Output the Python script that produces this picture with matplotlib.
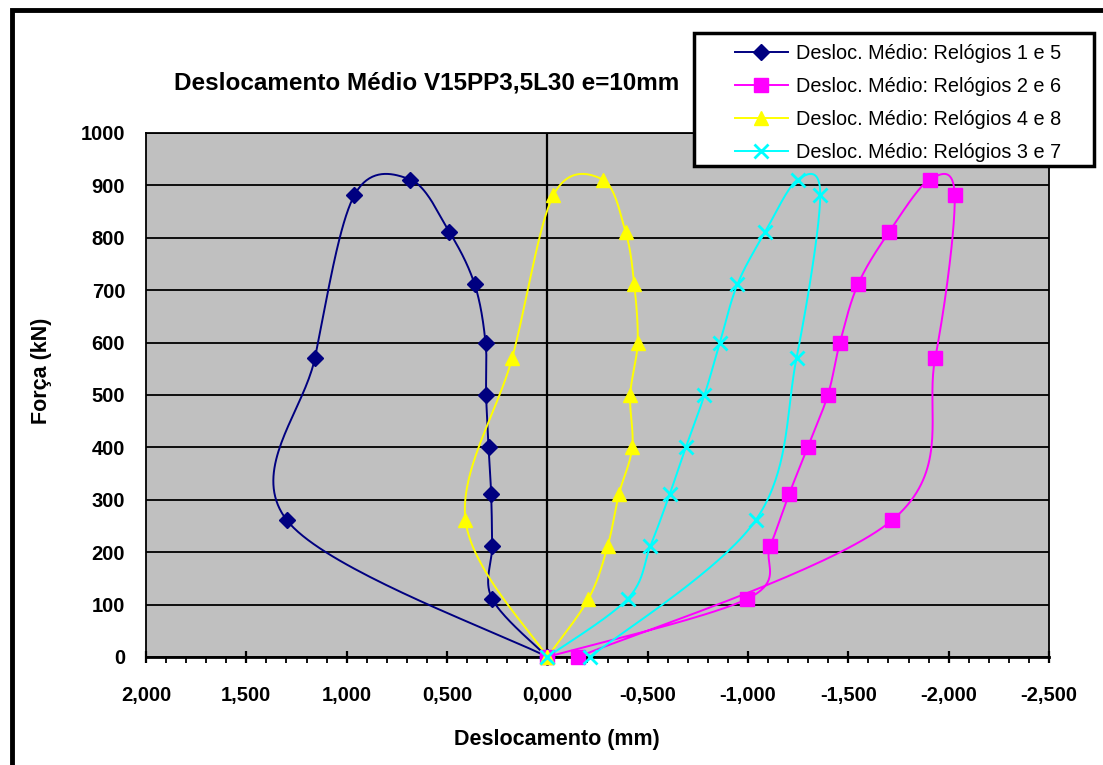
import numpy as np
import matplotlib
matplotlib.use('Agg')
import matplotlib.pyplot as plt
from matplotlib.lines import Line2D
from matplotlib.patches import Rectangle
from matplotlib.ticker import MultipleLocator, FuncFormatter

plt.rcParams['font.family'] = ['Liberation Sans', 'DejaVu Sans']

# ---------------- data ----------------
forca = [0, 111, 211, 311, 400, 500, 600, 711, 811, 911, 881, 571, 261, 0]
desl_1_5 = [0, 0.275, 0.275, 0.280, 0.293, 0.305, 0.308, 0.362, 0.488, 0.682, 0.962, 1.158, 1.298, 0]
desl_2_6 = [0, -0.997, -1.110, -1.205, -1.297, -1.398, -1.458, -1.548, -1.703, -1.905, -2.030, -1.933, -1.718, -0.155]
desl_4_8 = [0, -0.205, -0.300, -0.357, -0.423, -0.413, -0.450, -0.433, -0.390, -0.277, -0.030, 0.175, 0.408, 0]
desl_3_7 = [0, -0.400, -0.513, -0.610, -0.690, -0.783, -0.860, -0.947, -1.085, -1.247, -1.360, -1.242, -1.038, -0.213]

labels = ['Desloc. Médio: Relógios 1 e 5', 'Desloc. Médio: Relógios 2 e 6',
          'Desloc. Médio: Relógios 4 e 8', 'Desloc. Médio: Relógios 3 e 7']
series = [desl_1_5, desl_2_6, desl_4_8, desl_3_7]
colors = ['#000080', '#FF00FF', '#FFFF00', '#00FFFF']
markers = ['D', 's', '^', 'x']
msizes = [8.5, 10.5, 10.5, 10]

title = 'Deslocamento Médio V15PP3,5L30 e=10mm'
xlabel = 'Deslocamento (mm)'
ylabel = 'Força (kN)'

W, H = 1103, 765
fig = plt.figure(figsize=(W / 100, H / 100), dpi=100)
fig.patch.set_facecolor('white')

L, R, T, B = 146, 1049, 133, 657
ax = fig.add_axes([L / W, 1 - B / H, (R - L) / W, (B - T) / H])
ax.set_facecolor('#C0C0C0')
ax.set_xlim(2.0, -2.5)
ax.set_ylim(0, 1000)

# gridlines
ax.yaxis.set_major_locator(MultipleLocator(100))
ax.grid(axis='y', color='black', lw=1.3, zorder=1)
ax.set_axisbelow(True)
ax.axvline(0, color='black', lw=1.6, zorder=1.5)

for s in ax.spines.values():
    s.set_color('black')
    s.set_linewidth(1.3)
ax.spines['bottom'].set_linewidth(2)

ax.xaxis.set_major_locator(MultipleLocator(0.5))
ax.xaxis.set_minor_locator(MultipleLocator(0.1))


def xfmt(v, pos):
    if abs(v) < 1e-9:
        v = 0.0
    return f'{v:.3f}'.replace('.', ',')


ax.xaxis.set_major_formatter(FuncFormatter(xfmt))
ax.tick_params(axis='x', which='major', direction='inout', length=8, width=1.6,
               labelsize=14.5, pad=17)
ax.tick_params(axis='x', which='minor', direction='out', length=4, width=1.3)
ax.tick_params(axis='y', which='both', length=0, labelsize=14.5, pad=15)
for lab in ax.get_xticklabels() + ax.get_yticklabels():
    lab.set_fontweight('bold')


def smooth(xs, ys, n=40):
    pts = ax.transData.transform(np.column_stack([xs, ys]))
    P = np.vstack([pts[0], pts, pts[-1]])
    out = []
    t = np.linspace(0, 1, n)[:, None]
    for i in range(1, len(P) - 2):
        p0, p1, p2, p3 = P[i - 1], P[i], P[i + 1], P[i + 2]
        c1 = p1 + (p2 - p0) / 6
        c2 = p2 - (p3 - p1) / 6
        seg = (1 - t) ** 3 * p1 + 3 * (1 - t) ** 2 * t * c1 + 3 * (1 - t) * t ** 2 * c2 + t ** 3 * p2
        out.append(seg)
    out = np.vstack(out)
    return ax.transData.inverted().transform(out)


handles = []
for xs, c, m, ms, lab in zip(series, colors, markers, msizes, labels):
    curve = smooth(xs, forca)
    ax.plot(curve[:, 0], curve[:, 1], color=c, lw=1.4, zorder=3, clip_on=False)
    mew = 2.0 if m == 'x' else 1
    ax.plot(xs, forca, ls='none', marker=m, ms=ms, color=c, mec=c, mew=mew, zorder=4, clip_on=False)
    handles.append(Line2D([], [], color=c, lw=1.4, marker=m, ms=ms, mec=c, mew=mew))

fig.text(427 / W, 1 - 83 / H, title, ha='center', va='center', fontsize=17.5, fontweight='bold')
fig.text(557 / W, 1 - 740 / H, xlabel, ha='center', va='center', fontsize=15.5, fontweight='bold')
fig.text(42 / W, 1 - 371 / H, ylabel, ha='center', va='center', fontsize=15.5, fontweight='bold',
         rotation=90)

# legend box (drawn as a figure rectangle) and entries
fig.patches.append(Rectangle((694 / W, 1 - 166 / H), (1094 - 694) / W, (166 - 33) / H,
                             transform=fig.transFigure, facecolor='white', edgecolor='black',
                             lw=2.5, zorder=9))
leg = fig.legend(handles, labels, loc='upper left', bbox_to_anchor=(735 / W, 1 - 44 / H),
                 fontsize=14.3, frameon=False, handlelength=2.65, handletextpad=0.4,
                 labelspacing=0.7, borderpad=0, borderaxespad=0)
leg.set_zorder(10)

# outer frame
fig.patches.append(Rectangle((12 / W, -0.05), 1.2, 1 - 10 / H + 0.05, transform=fig.transFigure,
                             fill=False, edgecolor='black', lw=3.5, zorder=0))

fig.savefig('out.png', dpi=100)
